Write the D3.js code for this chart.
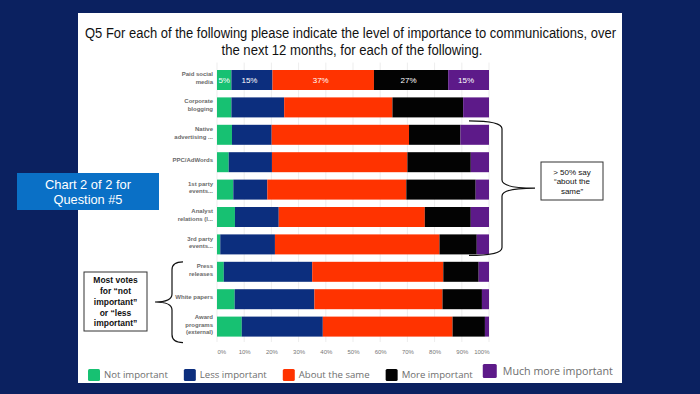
<!DOCTYPE html>
<html>
<head>
<meta charset="utf-8">
<script src="https://cdn.jsdelivr.net/npm/d3@7"></script>
<style>
  html, body { margin: 0; padding: 0; background: #0b2160; }
  svg { display: block; }
</style>
</head>
<body>
<div id="chart"></div>
<script>
// survey answers, % of respondents per row
const categories = [
  'Paid social media', 'Corporate blogging', 'Native advertising ...', 'PPC/AdWords',
  '1st party events...', 'Analyst relations (l...', '3rd party events...',
  'Press releases', 'White papers', 'Award programs (external)'
];
const categoryLines = [
  ['Paid social', 'media'], ['Corporate', 'blogging'], ['Native', 'advertising ...'], ['PPC/AdWords'],
  ['1st party', 'events...'], ['Analyst', 'relations (l...'], ['3rd party', 'events...'],
  ['Press', 'releases'], ['White papers'], ['Award', 'programs', '(external)']
];
const notImportant  = [5.3, 5.3, 5.5, 4.3, 6.0, 6.6, 1.2, 2.5, 6.5, 9.1];
const lessImportant = [15.1, 19.4, 14.6, 15.9, 12.5, 16.1, 20.1, 32.5, 29.3, 29.8];
const aboutSame     = [37.3, 39.8, 50.5, 49.8, 51.1, 53.7, 60.5, 48.2, 47.1, 47.7];
const moreImportant = [27.3, 26.0, 18.9, 23.3, 25.5, 16.9, 13.7, 13.0, 14.5, 11.9];
const muchMore      = [15.0, 9.5, 10.5, 6.7, 4.9, 6.7, 4.5, 3.8, 2.6, 1.5];

const seriesNames = ['Not important', 'Less important', 'About the same', 'More important', 'Much more important'];
const xTicks = [0, 10, 20, 30, 40, 50, 60, 70, 80, 90, 100];
const labelledRows = ['Paid social media'];

const colors = ['#17c172', '#0c2e7e', '#ff3300', '#030303', '#5d1a89'];

const width = 700;
const height = 394;

const rows = categories.map((c, i) => ({
  category: c,
  'Not important': notImportant[i],
  'Less important': lessImportant[i],
  'About the same': aboutSame[i],
  'More important': moreImportant[i],
  'Much more important': muchMore[i]
}));

const stacked = d3.stack().keys(seriesNames)(rows);

const x = d3.scaleLinear().domain([0, 100]).range([217, 489]);
const y = d3.scaleBand().domain(categories).range([62.6, 344]).padding(0.27);
const color = d3.scaleOrdinal().domain(seriesNames).range(colors);

const svg = d3.select('#chart').append('svg')
  .attr('width', width)
  .attr('height', height);

// slide background + white panel
svg.append('rect').attr('width', width).attr('height', height).attr('fill', '#0b2160');
svg.append('rect')
  .attr('x', 78).attr('y', 13)
  .attr('width', 544).attr('height', 370)
  .attr('fill', '#fff');

// title
const title = svg.append('g')
  .attr('font-family', 'Liberation Sans, Arial, sans-serif')
  .attr('font-size', 14)
  .attr('fill', '#111')
  .attr('text-anchor', 'middle');
title.append('text').attr('x', 350.5).attr('y', 38)
  .attr('textLength', 531).attr('lengthAdjust', 'spacingAndGlyphs')
  .text('Q5 For each of the following please indicate the level of importance to communications, over');
title.append('text').attr('x', 352).attr('y', 55)
  .attr('textLength', 261).attr('lengthAdjust', 'spacingAndGlyphs')
  .text('the next 12 months, for each of the following.');

// gridlines
svg.append('g')
  .selectAll('line')
  .data(xTicks)
  .join('line')
  .attr('x1', d => x(d)).attr('x2', d => x(d))
  .attr('y1', y.range()[0]).attr('y2', y.range()[1] - 2)
  .attr('stroke', '#e8e8e8')
  .attr('stroke-width', 0.8);

// bars
const layers = svg.append('g')
  .selectAll('g')
  .data(stacked)
  .join('g')
  .attr('fill', d => color(d.key));

layers.selectAll('rect')
  .data(d => d.map(v => ({ key: d.key, v })))
  .join('rect')
  .attr('x', d => x(d.v[0]))
  .attr('y', d => y(d.v.data.category))
  .attr('width', d => x(d.v[1]) - x(d.v[0]))
  .attr('height', y.bandwidth());

// value labels (first row only)
layers.selectAll('text')
  .data(d => d.filter(v => labelledRows.includes(v.data.category)))
  .join('text')
  .attr('x', d => (x(d[0]) + x(d[1])) / 2 - (d[0] === 0 ? 0 : 2.5))
  .attr('y', d => y(d.data.category) + y.bandwidth() / 2)
  .attr('dy', '0.35em')
  .attr('text-anchor', 'middle')
  .attr('font-family', 'Liberation Sans, Arial, sans-serif')
  .attr('font-size', 8)
  .attr('fill', '#fff')
  .text(d => Math.round(d[1] - d[0]) + '%');

// category labels
const catLabels = svg.append('g')
  .attr('font-family', 'Liberation Sans, Arial, sans-serif')
  .attr('font-weight', 'bold')
  .attr('font-size', 6)
  .attr('fill', '#6a6a6a')
  .attr('text-anchor', 'end')
  .selectAll('text')
  .data(categories)
  .join('text')
  .attr('x', 213)
  .attr('y', (d, i) => y(d) + y.bandwidth() / 2 - (categoryLines[i].length - 1) * 3.9)
  .attr('dy', '0.35em');

catLabels.selectAll('tspan')
  .data((d, i) => categoryLines[i])
  .join('tspan')
  .attr('x', 213)
  .attr('dy', (d, i) => i === 0 ? 0 : 7.8)
  .text(d => d);

// x axis
const xAxis = svg.append('g')
  .attr('transform', 'translate(0,' + 347 + ')')
  .call(d3.axisBottom(x).tickValues(xTicks).tickSize(0).tickFormat(d => d + '%'));
xAxis.select('.domain').remove();
xAxis.selectAll('text')
  .attr('font-family', 'Liberation Sans, Arial, sans-serif')
  .attr('font-size', 6)
  .attr('fill', '#777')
  .attr('text-anchor', (d, i) => i === 0 ? 'start' : (i === xTicks.length - 1 ? 'end' : 'middle'));

// legend
const legend = svg.append('g').attr('font-family', 'Open Sans, sans-serif').attr('fill', '#6e6e6e');
let lx = 88;
seriesNames.forEach((name, i) => {
  const last = i === seriesNames.length - 1;
  const sw = last ? 14 : 12;
  const cy = last ? 371 : 375;
  legend.append('rect')
    .attr('x', lx).attr('y', cy - sw / 2)
    .attr('width', sw).attr('height', sw)
    .attr('rx', 1.5)
    .attr('fill', colors[i]);
  const t = legend.append('text')
    .attr('x', lx + sw + (last ? 6 : 4))
    .attr('y', cy)
    .attr('dy', '0.35em')
    .attr('font-size', last ? 10.7 : 9.6)
    .text(name);
  lx += sw + (last ? 6 : 4) + t.node().getComputedTextLength() + (i === seriesNames.length - 2 ? 10 : 16);
});

// curly brace helper
function brace(xArm, xv, xTip, y0, y1, yTip, r) {
  return 'M' + xArm + ',' + y0 +
    ' Q' + xv + ',' + y0 + ' ' + xv + ',' + (y0 + r) +
    ' L' + xv + ',' + (yTip - r) +
    ' Q' + xv + ',' + yTip + ' ' + xTip + ',' + yTip +
    ' Q' + xv + ',' + yTip + ' ' + xv + ',' + (yTip + r) +
    ' L' + xv + ',' + (y1 - r) +
    ' Q' + xv + ',' + y1 + ' ' + xArm + ',' + y1;
}

const rTop = y('Native advertising ...') - 4;
const rBot = y('3rd party events...') + y.bandwidth() + 1;
svg.append('path')
  .attr('d', brace(469, 502, 535, rTop, rBot, (rTop + rBot) / 2, 8))
  .attr('fill', 'none').attr('stroke', '#111').attr('stroke-width', 1.2);

const lTop = y('Press releases');
const lBot = y('Award programs (external)') + y.bandwidth() + 6;
svg.append('path')
  .attr('d', brace(183, 172, 155, lTop, lBot, 302, 8))
  .attr('fill', 'none').attr('stroke', '#111').attr('stroke-width', 1.2);

// annotation boxes
function noteBox(bx, by, bw, bh, lines, opts) {
  svg.append('rect')
    .attr('x', bx).attr('y', by).attr('width', bw).attr('height', bh)
    .attr('fill', '#fff').attr('stroke', '#333').attr('stroke-width', 1);
  svg.append('g')
    .attr('font-family', 'Liberation Sans, Arial, sans-serif')
    .attr('font-size', opts.size)
    .attr('font-weight', opts.weight)
    .attr('fill', '#111')
    .attr('text-anchor', 'middle')
    .selectAll('text')
    .data(lines)
    .join('text')
    .attr('x', bx + bw / 2)
    .attr('y', (d, i) => opts.first + i * opts.lh)
    .attr('dy', '0.35em')
    .text(d => d);
}

noteBox(541, 162, 62, 38, ['> 50% say', '\u201cabout the', 'same\u201d'], { size: 8, weight: 'normal', first: 172, lh: 9.6 });
noteBox(84, 272, 63, 59, ['Most votes', 'for \u201cnot', 'important\u201d', 'or \u201cless', 'important\u201d'], { size: 8.5, weight: 'bold', first: 280.5, lh: 10.7 });

// blue callout
svg.append('rect')
  .attr('x', 17).attr('y', 173).attr('width', 142).attr('height', 37)
  .attr('fill', '#0a70c6');
const callout = svg.append('g')
  .attr('font-family', 'Liberation Sans, Arial, sans-serif')
  .attr('font-size', 13.5)
  .attr('fill', '#fff')
  .attr('text-anchor', 'middle');
callout.append('text').attr('x', 88).attr('y', 184).attr('dy', '0.35em')
  .attr('textLength', 86).attr('lengthAdjust', 'spacingAndGlyphs').text('Chart 2 of 2 for');
callout.append('text').attr('x', 88).attr('y', 199).attr('dy', '0.35em')
  .attr('textLength', 69).attr('lengthAdjust', 'spacingAndGlyphs').text('Question #5');
</script>
</body>
</html>
